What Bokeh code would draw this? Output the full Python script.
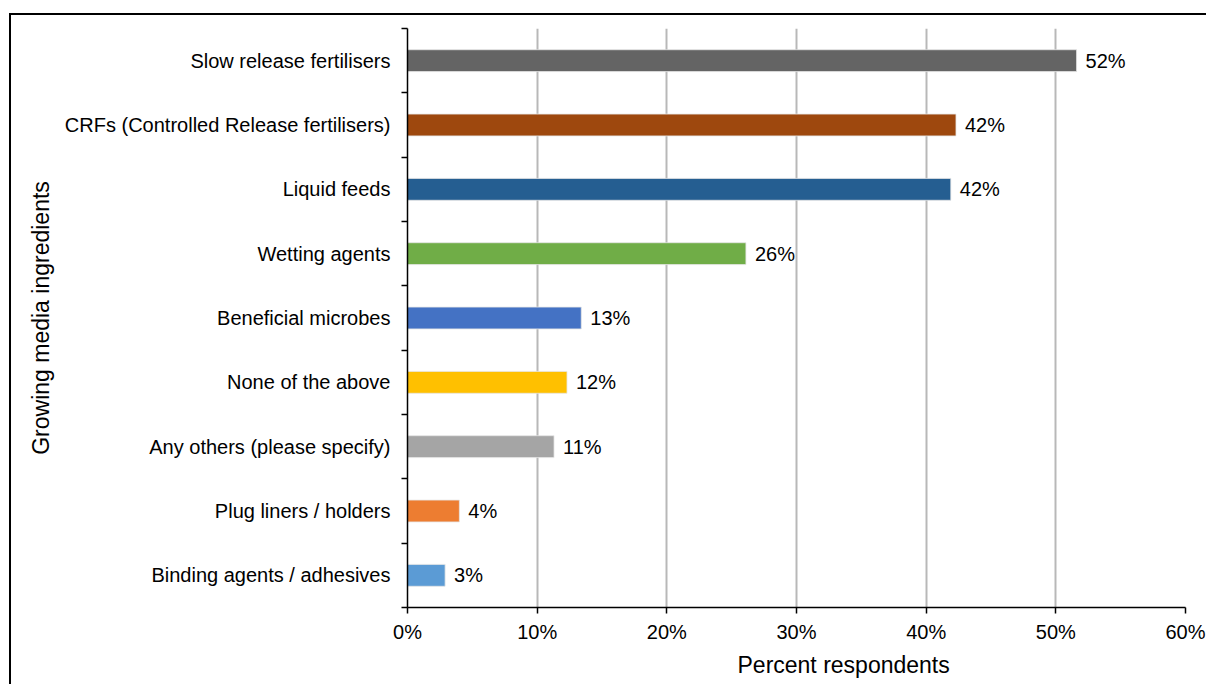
from bokeh.plotting import figure
from bokeh.models import (ColumnDataSource, FixedTicker, PrintfTickFormatter, Range1d, Title)
from bokeh.core.properties import value
from bokeh.embed import file_html
from bokeh.resources import INLINE

categories = ["Slow release fertilisers", "CRFs (Controlled Release fertilisers)", "Liquid feeds",
              "Wetting agents", "Beneficial microbes", "None of the above",
              "Any others (please specify)", "Plug liners / holders", "Binding agents / adhesives"]
values = [51.6, 42.3, 41.9, 26.1, 13.4, 12.3, 11.3, 4.0, 2.9]
colors = ["#646464", "#9E480E", "#255E91", "#70AD47", "#4472C4", "#FFC000", "#A5A5A5", "#ED7D31", "#5B9BD5"]
x_ticks = [0, 10, 20, 30, 40, 50, 60]

FONT = "Liberation Sans"
n = len(categories)
centers = [i + 0.5 for i in range(n)]
bounds = list(range(n + 1))

src = ColumnDataSource(dict(
    y=centers, v=values, c=colors,
    lab=[f"{round(v)}%" for v in values],
))

bg = ("linear-gradient(#000,#000) 9px 13px / 2px 720px no-repeat, "
      "linear-gradient(#000,#000) 9px 13px / 1300px 2px no-repeat, #fff")

p = figure(width=1206, height=684, output_backend="svg", toolbar_location=None,
           x_range=Range1d(0, 60), y_range=Range1d(n, 0),
           min_border_left=407, min_border_right=21, min_border_top=28, min_border_bottom=77,
           border_fill_color=None, background_fill_color="white",
           styles={"background": bg},
           stylesheets=[":host { background: %s !important; }" % bg])
p.outline_line_color = None

p.hbar(y="y", right="v", left=0, height=0.34, color="c", line_color="#e6e6e6", line_width=0.8, source=src)
p.text(x="v", y="y", text="lab", source=src, x_offset=9, text_baseline="middle", text_align="left",
       text_font=value(FONT), text_font_size="20px", text_color="black")

# x axis
p.xaxis.ticker = FixedTicker(ticks=x_ticks)
p.xaxis.formatter = PrintfTickFormatter(format="%d%%")
p.xaxis.major_label_text_font = FONT
p.xaxis.major_label_text_font_size = "20px"
p.xaxis.major_label_text_color = "black"
p.xaxis.major_label_standoff = 7
p.xaxis.major_tick_out = 6
p.xaxis.major_tick_in = 0
p.xaxis.minor_tick_out = 0
p.xaxis.minor_tick_in = 0
p.xaxis.axis_line_color = "black"
p.xaxis.axis_line_width = 1.5
p.xaxis.major_tick_line_color = "black"
p.xaxis.major_tick_line_width = 1.5

p.add_layout(Title(text="Percent respondents", align="left", offset=330, standoff=8,
                   text_font=FONT, text_font_size="23px", text_font_style="normal",
                   text_color="black"), "below")

# y axis
p.yaxis.ticker = FixedTicker(ticks=centers, minor_ticks=bounds)
p.yaxis.major_label_overrides = {c: lab for c, lab in zip(centers, categories)}
p.yaxis.major_label_text_font = FONT
p.yaxis.major_label_text_font_size = "20px"
p.yaxis.major_label_text_color = "black"
p.yaxis.major_label_standoff = 11
p.yaxis.major_tick_out = 0
p.yaxis.major_tick_in = 0
p.yaxis.minor_tick_out = 6
p.yaxis.minor_tick_in = 0
p.yaxis.minor_tick_line_color = "black"
p.yaxis.minor_tick_line_width = 1.5
p.yaxis.axis_line_color = "black"
p.yaxis.axis_line_width = 1.5
p.yaxis.axis_label = "Growing media ingredients"
p.yaxis.axis_label_text_font = FONT
p.yaxis.axis_label_text_font_size = "23px"
p.yaxis.axis_label_text_font_style = "normal"
p.yaxis.axis_label_text_color = "black"
p.yaxis.axis_label_standoff = 8

p.xgrid.ticker = FixedTicker(ticks=x_ticks[1:])
p.xgrid.grid_line_color = "#b8b8b8"
p.xgrid.grid_line_width = 2
p.ygrid.grid_line_color = None

open("out.html", "w").write(file_html(p, INLINE))
